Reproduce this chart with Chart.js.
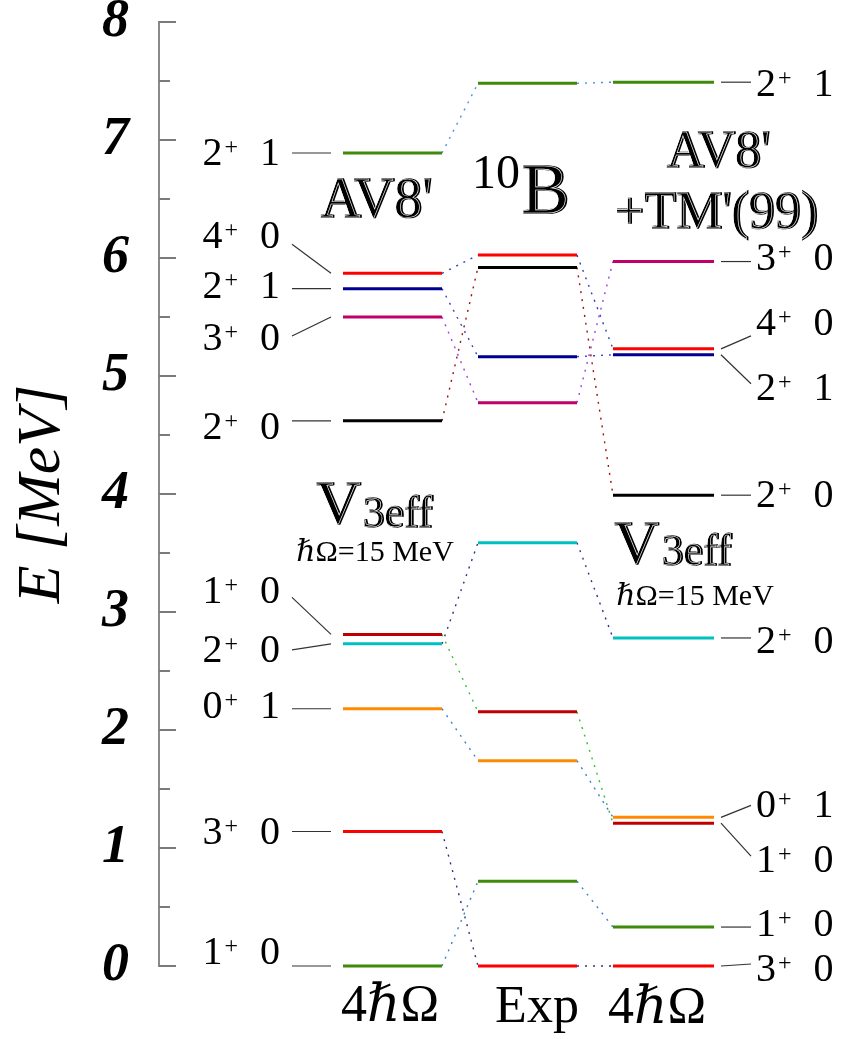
<!DOCTYPE html>
<html>
<head>
<meta charset="utf-8">
<script src="https://cdn.jsdelivr.net/npm/chart.js@4.4.0/dist/chart.umd.min.js"></script>
<style>
  html, body { margin: 0; padding: 0; background: #fff; }
  #wrap { width: 851px; height: 1039px; }
</style>
</head>
<body>
<div id="wrap"><canvas id="levels"></canvas></div>
<script>
// 10B levels, same state order in every array
const stateJ = ['1', '3', '0', '2', '1', '2', '3', '2', '4', '2'];
const stateT = ['0', '0', '1', '0', '0', '0', '0', '1', '0', '1'];
const energyV3eff = [0.00, 1.14, 2.18, 2.73, 2.81, 4.62, 5.50, 5.74, 5.87, 6.89];
const energyExp   = [0.718, 0.00, 1.740, 3.587, 2.154, 5.920, 4.774, 5.164, 6.025, 7.480];
const energyTM99  = [0.33, 0.00, 1.26, 2.78, 1.21, 3.99, 5.97, 5.18, 5.23, 7.49];
const energyTicks = [0, 1, 2, 3, 4, 5, 6, 7, 8];

// styling
const levelColors = ['#3f8a0a', '#ff0000', '#ff8a00', '#00c0c0', '#c00000',
                     '#000000', '#c0006a', '#000090', '#ff0000', '#3f8a0a'];
const linkColors  = ['#3a80d0', '#303080', '#3a80d0', '#303090', '#30c030',
                     '#a01010', '#a040e0', '#4040d0', '#3040c0', '#4a90e2'];

// column extents (x in canvas px, x scale runs 159..851)
const colV3 = [343, 442], colExp = [478, 577], colTM = [613, 714];

// label placement offsets in px relative to the level line: [leader end, text centre]
const leftPlace  = [[0, -15], [0, 0], [0, -4], [6, 5], [-37, -44],
                    [0, 5], [19, 20], [0, -4], [-29, -38], [0, -1]];
const rightPlace = [[0, -4], [-2, 2], [-12, -13], [0, 2], [33, 36],
                    [0, -1], [0, -5], [29, 32], [-13, -27], [0, 1]];

const serif = '"Liberation Serif", "DejaVu Serif", serif';

const datasets = [];
[[colV3, energyV3eff], [colExp, energyExp], [colTM, energyTM99]].forEach(([col, en]) => {
  en.forEach((e, i) => {
    datasets.push({
      data: [{ x: col[0], y: e }, { x: col[1], y: e }],
      borderColor: levelColors[i], borderWidth: 3, clip: false
    });
  });
});
[[colV3, energyV3eff, colExp, energyExp], [colExp, energyExp, colTM, energyTM99]].forEach(([c1, e1, c2, e2]) => {
  e1.forEach((e, i) => {
    datasets.push({
      data: [{ x: c1[1], y: e }, { x: c2[0], y: e2[i] }],
      borderColor: linkColors[i], borderWidth: 1.4, borderDash: [2, 6], clip: false
    });
  });
});

function drawJT(ctx, j, t, x, cy, align) {
  const big = '40px ' + serif, small = '24px ' + serif;
  ctx.font = big;
  const wj = ctx.measureText(j).width, wt = ctx.measureText(t).width;
  ctx.font = small;
  const wp = ctx.measureText('+').width;
  const gap = 22;
  const total = wj + 2 + wp + gap + wt;
  const x0 = align === 'right' ? x - total : x;
  const base = cy + 13;
  ctx.textAlign = 'left';
  ctx.fillStyle = '#000';
  ctx.font = big; ctx.fillText(j, x0, base);
  ctx.font = small; ctx.fillText('+', x0 + wj + 2, base - 11);
  ctx.font = big; ctx.fillText(t, x0 + wj + 2 + wp + gap, base);
}

function line(ctx, x1, y1, x2, y2) {
  ctx.beginPath(); ctx.moveTo(x1, y1); ctx.lineTo(x2, y2); ctx.stroke();
}

// shadowed title lettering: heavy black glyph with a thin light inner line
function fancy(ctx, str, x, y, size) {
  ctx.font = size + 'px ' + serif;
  ctx.textAlign = 'center';
  ctx.fillStyle = '#000';
  ctx.strokeStyle = '#000';
  ctx.lineWidth = 1.6;
  ctx.fillText(str, x, y);
  ctx.strokeText(str, x, y);
  ctx.strokeStyle = '#fff';
  ctx.lineWidth = 0.6;
  ctx.strokeText(str, x - 1.3, y - 0.4);
}

const innerTicks = {
  id: 'innerTicks',
  afterDraw(chart) {
    const { ctx, scales: { y }, chartArea } = chart;
    ctx.save();
    ctx.strokeStyle = '#7a7a7a';
    ctx.lineWidth = 2;
    y.ticks.forEach(t => {
      const py = y.getPixelForValue(t.value);
      const len = energyTicks.includes(t.value) ? 17 : 11;
      line(ctx, chartArea.left, py, chartArea.left + len, py);
    });
    ctx.restore();
  }
};

const annotations = {
  id: 'annotations',
  afterDatasetsDraw(chart) {
    const { ctx, scales: { x, y } } = chart;
    ctx.save();
    ctx.strokeStyle = '#333';
    ctx.lineWidth = 1.2;
    energyV3eff.forEach((e, i) => {
      const py = y.getPixelForValue(e);
      const [dl, dt] = leftPlace[i];
      line(ctx, x.getPixelForValue(292), py + dl, x.getPixelForValue(331), py);
      drawJT(ctx, stateJ[i], stateT[i], x.getPixelForValue(280), py + dt, 'right');
    });
    energyTM99.forEach((e, i) => {
      const py = y.getPixelForValue(e);
      const [dl, dt] = rightPlace[i];
      ctx.strokeStyle = '#333';
      ctx.lineWidth = 1.2;
      line(ctx, x.getPixelForValue(721), py, x.getPixelForValue(751), py + dl);
      drawJT(ctx, stateJ[i], stateT[i], x.getPixelForValue(756), py + dt, 'left');
    });

    // column titles
    fancy(ctx, "AV8'", 377, 217, 56);
    ctx.font = '48px ' + serif; ctx.textAlign = 'left'; ctx.fillStyle = '#000';
    ctx.fillText('10', 472, 188);
    fancy(ctx, 'B', 546, 213, 72);
    fancy(ctx, "AV8'", 719, 167, 52);
    fancy(ctx, "+TM'(99)", 717, 228, 52);

    fancy(ctx, 'V', 339, 523, 62);
    fancy(ctx, '3eff', 398, 527, 44);
    fancy(ctx, 'V', 637, 563, 62);
    fancy(ctx, '3eff', 697, 565, 44);
    ctx.font = '30px ' + serif; ctx.textAlign = 'center'; ctx.fillStyle = '#000';
    ctx.fillText('ℏΩ=15 MeV', 375, 561);
    ctx.fillText('ℏΩ=15 MeV', 695, 605);

    ctx.font = '52px ' + serif;
    ctx.fillText('4ℏΩ', 390, 1021);
    ctx.fillText('Exp', 537, 1022);
    ctx.fillText('4ℏΩ', 657, 1023);
    ctx.restore();
  }
};

new Chart(document.getElementById('levels'), {
  type: 'scatter',
  data: { datasets },
  options: {
    responsive: true,
    maintainAspectRatio: false,
    animation: false,
    showLine: true,
    elements: { point: { radius: 0 }, line: { tension: 0 } },
    layout: { padding: { top: 22, bottom: 73, left: 0, right: 0 } },
    plugins: { legend: { display: false }, tooltip: { enabled: false } },
    scales: {
      x: { type: 'linear', min: 159, max: 851, display: false },
      y: {
        min: 0, max: 8,
        afterFit(scale) {
          scale.width = 159;
          scale.paddingTop = 0;
          scale.paddingBottom = 0;
        },
        border: { display: true, color: '#8a8a8a', width: 2 },
        grid: { display: false },
        ticks: {
          stepSize: 0.5, autoSkip: false, padding: 22, color: '#000',
          font: { family: serif, style: 'italic', weight: 'bold', size: 54 },
          callback: v => energyTicks.includes(v) ? String(v) : ''
        },
        title: {
          display: true, text: 'E [MeV]', color: '#000',
          font: { family: serif, style: 'italic', size: 62 },
          padding: { top: 6, bottom: 0 }
        }
      }
    }
  },
  plugins: [innerTicks, annotations]
});
</script>
</body>
</html>
